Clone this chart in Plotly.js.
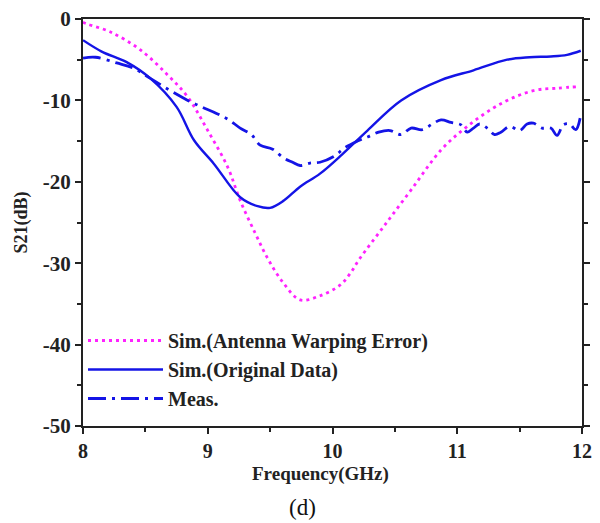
<!DOCTYPE html>
<html>
<head>
<meta charset="utf-8">
<script src="https://cdn.plot.ly/plotly-3.0.1.min.js"></script>
<style>html,body{margin:0;padding:0;background:#fff;}#chart{width:600px;height:523px;}</style>
</head>
<body>
<div id="chart"></div>
<script>
// Sim.(Antenna Warping Error)
const warpX = [8.0, 8.03, 8.22, 8.46, 8.68, 8.84, 9.0, 9.16, 9.26, 9.38, 9.48, 9.6, 9.74, 9.9, 10.06, 10.14, 10.22, 10.41, 10.63, 10.87, 11.08, 11.35, 11.61, 11.8, 11.98];
const warpY = [-0.4, -0.6, -1.6, -3.8, -6.9, -9.6, -13.7, -18.2, -22.3, -26.3, -29.4, -32.3, -34.5, -34.0, -32.7, -31.3, -29.4, -25.5, -21.0, -16.1, -13.2, -10.4, -8.8, -8.5, -8.3];
// Sim.(Original Data)
const origX = [8.0, 8.15, 8.35, 8.54, 8.75, 8.89, 9.05, 9.26, 9.4, 9.5, 9.61, 9.74, 9.9, 10.08, 10.28, 10.55, 10.87, 11.13, 11.4, 11.58, 11.75, 11.88, 11.99];
const origY = [-2.6, -4.0, -5.3, -7.3, -10.8, -14.9, -17.8, -21.9, -23.0, -23.2, -22.3, -20.6, -19.0, -16.6, -13.7, -10.0, -7.5, -6.3, -5.0, -4.7, -4.6, -4.4, -3.9];
// Meas.
const measX = [8.0, 8.1, 8.27, 8.4, 8.54, 8.7, 8.84, 8.95, 9.07, 9.17, 9.26, 9.35, 9.42, 9.52, 9.61, 9.68, 9.74, 9.82, 9.9, 10.01, 10.1, 10.2, 10.28, 10.37, 10.46, 10.55, 10.63, 10.72, 10.8, 10.87, 10.95, 11.03, 11.08, 11.13, 11.18, 11.24, 11.3, 11.35, 11.42, 11.5, 11.56, 11.61, 11.68, 11.75, 11.8, 11.85, 11.9, 11.95, 11.99];
const measY = [-4.8, -4.7, -5.4, -6.0, -7.3, -8.8, -10.0, -10.8, -11.6, -12.4, -13.4, -14.2, -15.5, -16.0, -17.1, -17.6, -18.0, -17.7, -17.6, -16.9, -15.8, -15.0, -14.5, -13.9, -13.7, -14.2, -13.4, -13.6, -12.9, -12.4, -12.7, -13.0, -13.9, -13.4, -12.9, -13.4, -14.2, -13.9, -13.2, -13.7, -12.9, -12.8, -13.4, -13.4, -14.3, -13.0, -12.9, -13.6, -11.8];

// Tick labels
const xTickVals = [8, 9, 10, 11, 12];
const xTickText = ['8', '9', '10', '11', '12'];
const yTickVals = [0, -10, -20, -30, -40, -50];
const yTickText = ['0', '-10', '-20', '-30', '-40', '-50'];

const serif = 'Liberation Serif, Times New Roman, serif';
const bold = s => '<b>' + s + '</b>';

const traces = [
  {x: warpX, y: warpY, mode: 'lines', name: bold('Sim.(Antenna Warping Error)'), line: {color: '#ff22ff', width: 2.8, dash: '3px,4px', shape: 'spline'}},
  {x: origX, y: origY, mode: 'lines', name: bold('Sim.(Original Data)'), line: {color: '#1414e6', width: 2.4, shape: 'spline'}},
  {x: measX, y: measY, mode: 'lines', name: bold('Meas.'), line: {color: '#1414e6', width: 2.8, dash: '18px,6px,3px,6px', shape: 'spline'}}
];

const layout = {
  width: 600, height: 523,
  margin: {l: 83, r: 18, t: 19, b: 97},
  paper_bgcolor: '#fff', plot_bgcolor: '#fff',
  showlegend: true,
  legend: {x: 0.0, y: 0.258, xanchor: 'left', yanchor: 'top', bgcolor: 'rgba(0,0,0,0)',
    font: {family: serif, size: 20, color: '#222'}, tracegroupgap: 0, itemwidth: 75},
  xaxis: {
    range: [8, 12], tickmode: 'array', tickvals: xTickVals, ticktext: xTickText.map(bold),
    showgrid: false, zeroline: false,
    showline: true, linecolor: '#222', linewidth: 2, mirror: true,
    ticks: 'outside', ticklen: 6, tickwidth: 2, tickcolor: '#222',
    minor: {dtick: 0.5, tick0: 8, ticks: 'outside', ticklen: 4, tickwidth: 2, tickcolor: '#222'},
    tickfont: {family: serif, size: 20, color: '#222'}
  },
  yaxis: {
    range: [-50, 0], tickmode: 'array', tickvals: yTickVals, ticktext: yTickText.map(bold),
    showgrid: false, zeroline: false,
    showline: true, linecolor: '#222', linewidth: 2, mirror: 'allticks',
    ticks: 'outside', ticklen: 6, tickwidth: 2, tickcolor: '#222',
    minor: {dtick: 5, tick0: 0, ticks: 'outside', ticklen: 4, tickwidth: 2, tickcolor: '#222'},
    tickfont: {family: serif, size: 21, color: '#222'},
    title: {text: bold('S21(dB)'), font: {family: serif, size: 18, color: '#222'}, standoff: 10}
  },
  annotations: [
    {text: bold('Frequency(GHz)'), xref: 'paper', yref: 'paper', x: 0.475, y: -0.118, xanchor: 'center', yanchor: 'middle', showarrow: false,
     font: {family: serif, size: 19, color: '#222'}},
    {text: '(d)', xref: 'paper', yref: 'paper', x: 0.439, y: -0.2, xanchor: 'center', yanchor: 'middle', showarrow: false,
     font: {family: serif, size: 23, color: '#111'}}
  ]
};

Plotly.newPlot('chart', traces, layout, {staticPlot: true});
</script>
</body>
</html>
